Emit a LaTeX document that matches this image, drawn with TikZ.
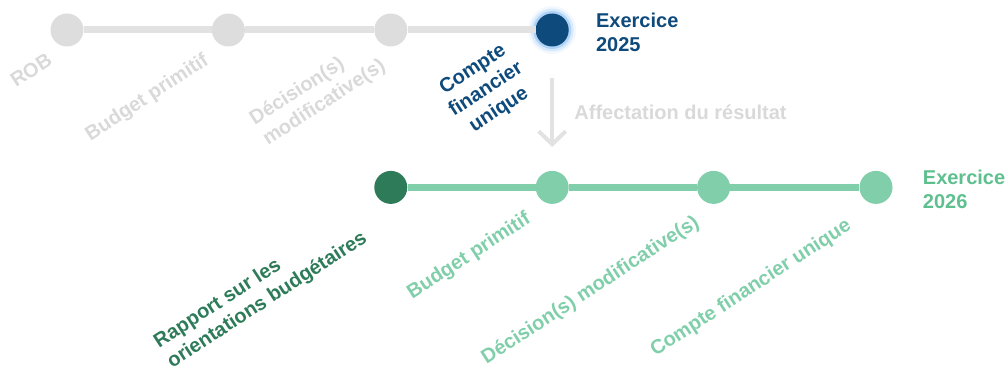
\documentclass[tikz,border=0pt]{standalone}
\usepackage{fontspec}
\setmainfont{Liberation Sans}
\usetikzlibrary{arrows.meta,positioning,backgrounds}

\definecolor{greyline}{HTML}{E2E2E2}
\definecolor{greydot}{HTML}{DDDDDD}
\definecolor{greytxt}{HTML}{D9D9D9}
\definecolor{bluedot}{HTML}{0E4A7B}
\definecolor{blueglow}{HTML}{5FA8F0}
\definecolor{darkgreen}{HTML}{2E7B5A}
\definecolor{lightgreen}{HTML}{80CFAA}
\definecolor{greentxt}{HTML}{5EC08F}

\begin{document}
\begin{tikzpicture}[x=1pt,y=-1pt,
    dot/.style={circle,minimum size=33pt,inner sep=0pt},
    txt/.style={font=\bfseries\fontsize{20}{24}\selectfont,inner sep=0pt},
    lbl/.style={txt,rotate=33}]
    \useasboundingbox (0,0) rectangle (1007,371);

    % exercice 2025
    \node [dot,fill=greydot] (t1) at (67,30) {};
    \node [dot,fill=greydot,right=128pt of t1] (t2) {};
    \node [dot,fill=greydot,right=129pt of t2] (t3) {};
    \node [dot,fill=bluedot,right=128pt of t3] (t4) {};
    \begin{scope}[on background layer]
        \foreach \r/\o in {24/0.08,21.5/0.18,19/0.35}
            \fill [blueglow,opacity=\o] (t4.center) circle (\r pt);
    \end{scope}
    \foreach \a/\b in {t1/t2,t2/t3,t3/t4}
        \draw [greyline,line width=7pt] (\a) -- (\b);

    \node [lbl,greytxt] (l1) at ([shift={(-36,40)}]t1.center) {ROB};
    \node [lbl,greytxt] (l2) at ([shift={(-81,68)}]t2.center) {Budget primitif};
    \node [lbl,greytxt,align=left] (l3) at ([shift={(-73,63)}]t3.center) {Décision(s)\\modificative(s)};
    \node [lbl,bluedot,align=center] (l4) at ([shift={(-66,60)}]t4.center) {Compte\\financier\\unique};
    \node [txt,bluedot,align=left,anchor=west,right=27pt of t4,yshift=-2pt] (ex1) {Exercice\\2025};

    % affectation
    \coordinate (a1) at ([shift={(0,48)}]t4.center);
    \coordinate (a2) at ([shift={(0,117)}]t4.center);
    \draw [greyline,line width=4pt,-{Straight Barb[length=13pt,width=27pt,line width=4pt]}] (a1) -- (a2);
    \node [txt,greytxt,anchor=west] (aff) at ([shift={(22,82)}]t4.center) {Affectation du résultat};

    % exercice 2026
    \node [dot,fill=darkgreen,below=124pt of t3] (b1) {};
    \node [dot,fill=lightgreen,right=128pt of b1] (b2) {};
    \node [dot,fill=lightgreen,right=128pt of b2] (b3) {};
    \node [dot,fill=lightgreen,right=129pt of b3] (b4) {};
    \foreach \a/\b in {b1/b2,b2/b3,b3/b4}
        \draw [lightgreen,line width=7pt] (\a) -- (\b);

    \node [lbl,darkgreen,align=left] (m1) at ([shift={(-130,103)}]b1.center) {Rapport sur les\\orientations budgétaires};
    \node [lbl,lightgreen] (m2) at ([shift={(-83,69)}]b2.center) {Budget primitif};
    \node [lbl,lightgreen] (m3) at ([shift={(-123,103)}]b3.center) {Décision(s) modificative(s)};
    \node [lbl,lightgreen] (m4) at ([shift={(-125,101)}]b4.center) {Compte financier unique};
    \node [txt,greentxt,align=left,anchor=west,right=30pt of b4,yshift=-2pt] (ex2) {Exercice\\2026};
\end{tikzpicture}
\end{document}
